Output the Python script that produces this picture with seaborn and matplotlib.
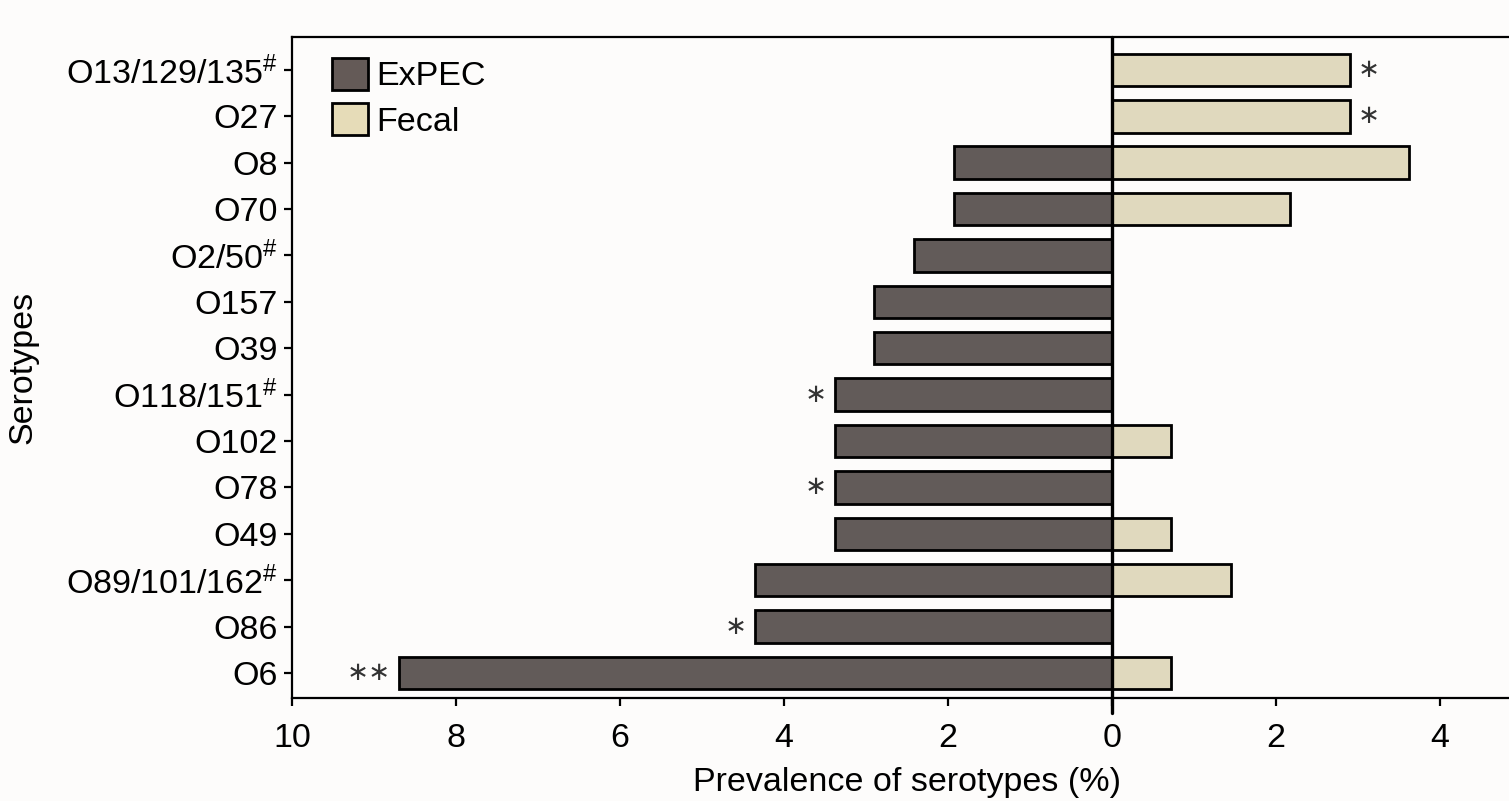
import matplotlib
matplotlib.use("Agg")
import matplotlib.pyplot as plt
from matplotlib.patches import Patch
import seaborn as sns
import pandas as pd
import numpy as np

serotypes = ["O13/129/135$^{\\#}$", "O27", "O8", "O70", "O2/50$^{\\#}$", "O157", "O39",
             "O118/151$^{\\#}$", "O102", "O78", "O49", "O89/101/162$^{\\#}$", "O86", "O6"]
expec = [0, 0, 1.93, 1.93, 2.42, 2.90, 2.90, 3.38, 3.38, 3.38, 3.38, 4.35, 4.35, 8.70]
fecal = [2.90, 2.90, 3.62, 2.17, 0, 0, 0, 0, 0.72, 0, 0.72, 1.45, 0, 0.72]
expec_sig = ["", "", "", "", "", "", "", "*", "", "*", "", "", "*", "**"]
fecal_sig = ["*", "*", "", "", "", "", "", "", "", "", "", "", "", ""]
groups = ["ExPEC", "Fecal"]
colors = ["#645a57", "#e6dcb8"]
xticks = [-10, -8, -6, -4, -2, 0, 2, 4]

sns.set_theme(style="ticks")
plt.rcParams["font.family"] = ["Liberation Sans", "DejaVu Sans"]
plt.rcParams["text.color"] = "black"
plt.rcParams["mathtext.fontset"] = "custom"
plt.rcParams["mathtext.rm"] = "Liberation Sans"
plt.rcParams["mathtext.it"] = "Liberation Sans"

rows = []
for s, e, f in zip(serotypes, expec, fecal):
    if e:
        rows.append({"serotype": s, "source": "ExPEC", "value": -e})
    if f:
        rows.append({"serotype": s, "source": "Fecal", "value": f})
df = pd.DataFrame(rows)

W, H = 1509, 801
bg = "#fdfcfb"
fig = plt.figure(figsize=(W / 100, H / 100), dpi=100, facecolor=bg)
ax = fig.add_axes([292 / W, 1 - 698 / H, (1522 - 292) / W, (698 - 37) / H])
ax.set_facecolor(bg)

sns.barplot(data=df, y="serotype", x="value", hue="source", order=serotypes,
            hue_order=groups, palette=colors, dodge=False, orient="h",
            width=0.7, edgecolor="black", linewidth=2.0, ax=ax, legend=False)

ax.set_xlim(-10, 5)
ax.set_ylim(len(serotypes) - 1 + 0.54, -0.71)
ax.set_xticks(xticks)
ax.set_xticklabels([str(abs(t)) for t in xticks])
ax.axvline(0, ymin=-0.023, ymax=1, color="black", lw=2.4, clip_on=False, zorder=5)

for sp in ax.spines.values():
    sp.set_linewidth(1.6)
    sp.set_color("black")

fs = 24.5
ax.tick_params(axis="both", labelsize=fs, width=1.6, length=6, color="black",
               labelcolor="black")
ax.tick_params(axis="x", pad=12)
ax.tick_params(axis="y", pad=4)
ax.set_xlabel("Prevalence of serotypes (%)", fontsize=fs, labelpad=9, color="black")
ax.set_ylabel("Serotypes", fontsize=fs, labelpad=20, color="black")

for i, (e, sig) in enumerate(zip(expec, expec_sig)):
    if sig:
        ax.text(-e - 0.1, i, sig.replace("*", "\u2217"), ha="right", va="center",
                fontsize=19, family="DejaVu Sans", color="#333333")
for i, (f, sig) in enumerate(zip(fecal, fecal_sig)):
    if sig:
        ax.text(f + 0.1, i, sig.replace("*", "\u2217"), ha="left", va="center",
                fontsize=19, family="DejaVu Sans", color="#333333")

handles = [Patch(facecolor=c, edgecolor="black", linewidth=2, label=g)
           for c, g in zip(colors, groups)]
ax.legend(handles=handles, loc="upper left", bbox_to_anchor=(332 / W, 1 - 58 / H),
          bbox_transform=fig.transFigure, frameon=False, fontsize=fs,
          handlelength=1.05, handleheight=1.05, handletextpad=0.25,
          labelspacing=0.32, borderpad=0, borderaxespad=0, labelcolor="black")

fig.savefig("out.png", dpi=100, facecolor=bg)
